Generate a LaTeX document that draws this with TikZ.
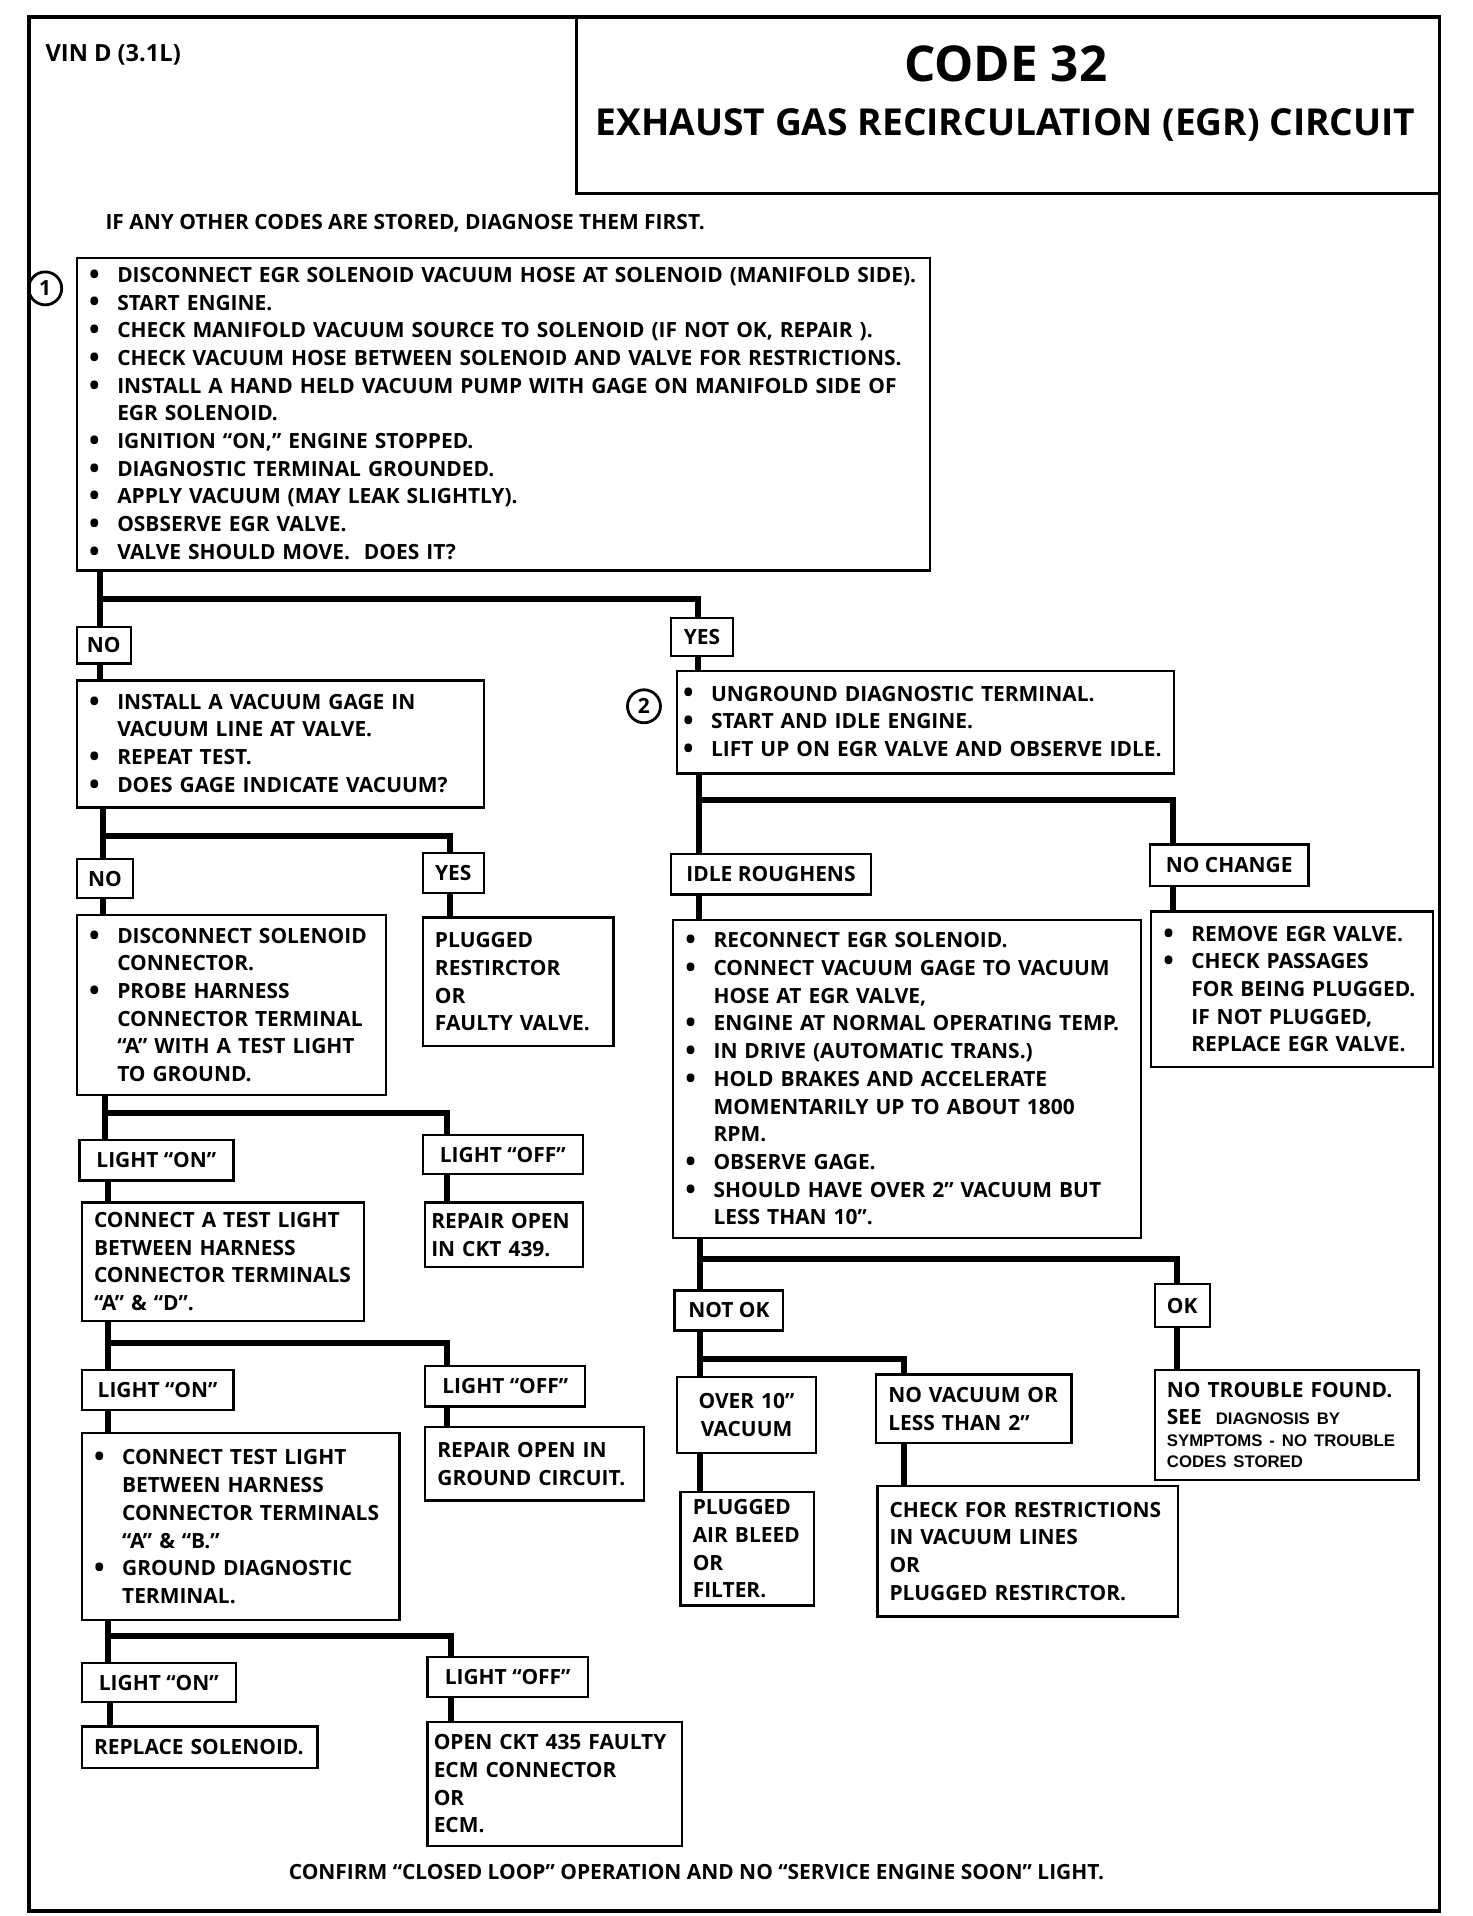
\documentclass[tikz,border=0pt]{standalone}
\usepackage{fontspec}
\setmainfont{Open Sans}
\newfontfamily\helvfont{Liberation Sans}

\newcommand{\itm}{\makebox[0.46cm][l]{\raisebox{-0.9pt}{\fontsize{13}{12}\selectfont\textbullet}}}
\newcommand{\ind}{\hspace*{0.46cm}}
\newcommand{\bodysize}{\bfseries\fontsize{9.75}{12.9}\selectfont}
\newcommand{\finesize}{\helvfont\bfseries\fontsize{7.8}{9}\selectfont}

\begin{document}
\begin{tikzpicture}[
    x=0.02cm,
    y=-0.02cm,
    textline/.style={
        font=\bodysize,
        inner sep=0pt
    },
    box/.style={
        draw,
        line width=1.1pt,
        anchor=north west,
        align=left,
        inner xsep=0.2cm,
        inner ysep=0pt,
        font=\bodysize
    },
    answer/.style={
        draw,
        line width=1.1pt,
        anchor=north west,
        inner sep=0pt,
        font=\bodysize
    },
    wh/.style 2 args={
        minimum width=#1cm,
        minimum height=#2cm
    },
    stepno/.style={
        draw,
        circle,
        line width=1.3pt,
        minimum size=0.54cm,
        inner sep=0pt,
        font=\bodysize
    },
    link/.style={
        line width=2.8pt
    }
]

\useasboundingbox (0,0) rectangle (1205,1568);

% ==================================================
% Frame and heading
% ==================================================

\draw[line width=1.8pt] (24,14) rectangle (1178,1564);
\draw[line width=1.4pt] (472,14) rectangle (1178,158);

\node[textline, anchor=west, font=\bfseries\fontsize{11}{13}\selectfont] (vin) at (37,45)
    {VIN D (3.1L)};

\node[font=\bfseries\fontsize{23}{26}\selectfont] (code) at (823,52)
    {CODE 32};

\node[font=\bfseries\fontsize{17.3}{20}\selectfont] (title) at (823,102)
    {EXHAUST GAS RECIRCULATION (EGR) CIRCUIT};

\node[textline, anchor=west] (other) at (86,183)
    {IF ANY OTHER CODES ARE STORED, DIAGNOSE THEM FIRST.};

% ==================================================
% Step 1
% ==================================================

\node[stepno] (n1) at (37,236) {1};

\node[box, text width=13.56cm, minimum height=5.12cm] (step1) at (62,210)
    {\itm DISCONNECT EGR SOLENOID VACUUM HOSE AT SOLENOID (MANIFOLD SIDE).\\
     \itm START ENGINE.\\
     \itm CHECK MANIFOLD VACUUM SOURCE TO SOLENOID (IF NOT OK, REPAIR ).\\
     \itm CHECK VACUUM HOSE BETWEEN SOLENOID AND VALVE FOR RESTRICTIONS.\\
     \itm INSTALL A HAND HELD VACUUM PUMP WITH GAGE ON MANIFOLD SIDE OF\\
     \ind EGR SOLENOID.\\
     \itm IGNITION “ON,” ENGINE STOPPED.\\
     \itm DIAGNOSTIC TERMINAL GROUNDED.\\
     \itm APPLY VACUUM (MAY LEAK SLIGHTLY).\\
     \itm OSBSERVE EGR VALVE.\\
     \itm VALVE SHOULD MOVE.\ \ DOES IT?};

\node[answer, wh={0.88}{0.6}] (no1) at (62,512) {NO};
\node[answer, wh={1.02}{0.62}] (yes1) at (548,505) {YES};

% ==================================================
% Left side: valve did not move
% ==================================================

\node[box, text width=6.26cm, minimum height=2.08cm] (vacgage) at (62,556)
    {\itm INSTALL A VACUUM GAGE IN\\
     \ind VACUUM LINE AT VALVE.\\
     \itm REPEAT TEST.\\
     \itm DOES GAGE INDICATE VACUUM?};

\node[answer, wh={0.92}{0.64}] (no2) at (62,702) {NO};
\node[answer, wh={1.0}{0.66}] (yes2) at (345,697) {YES};

\node[box, text width=4.66cm, minimum height=2.94cm] (discon) at (62,748)
    {\itm DISCONNECT SOLENOID\\
     \ind CONNECTOR.\\
     \itm PROBE HARNESS\\
     \ind CONNECTOR TERMINAL\\
     \ind “A” WITH A TEST LIGHT\\
     \ind TO GROUND.};

\node[box, text width=2.72cm, minimum height=2.1cm] (plugged) at (345,750)
    {PLUGGED\\ RESTIRCTOR\\ OR\\ FAULTY VALVE.};

\node[answer, wh={2.52}{0.66}] (on1) at (64,932) {LIGHT “ON”};
\node[answer, wh={2.62}{0.64}] (off1) at (345,928) {LIGHT “OFF”};

\node[box, text width=4.22cm, minimum height=1.94cm] (testAD) at (66,983)
    {CONNECT A TEST LIGHT\\
     BETWEEN HARNESS\\
     CONNECTOR TERMINALS\\
     “A” \& “D”.};

\node[box, inner xsep=0.1cm, text width=2.38cm, minimum height=1.06cm] (rep439) at (347,983)
    {REPAIR OPEN\\ IN CKT 439.};

\node[answer, wh={2.48}{0.66}] (on2) at (66,1120) {LIGHT “ON”};
\node[answer, wh={2.62}{0.66}] (off2) at (347,1117) {LIGHT “OFF”};

\node[box, text width=4.8cm, minimum height=3.06cm] (testAB) at (66,1172)
    {\itm CONNECT TEST LIGHT\\
     \ind BETWEEN HARNESS\\
     \ind CONNECTOR TERMINALS\\
     \ind “A” \& “B.”\\
     \itm GROUND DIAGNOSTIC\\
     \ind TERMINAL.};

\node[box, text width=3.18cm, minimum height=1.2cm] (repgnd) at (347,1167)
    {REPAIR OPEN IN\\ GROUND CIRCUIT.};

\node[answer, wh={2.52}{0.64}] (on3) at (66,1360) {LIGHT “ON”};
\node[answer, wh={2.62}{0.66}] (off3) at (349,1355) {LIGHT “OFF”};

\node[box, text width=3.46cm, minimum height=0.68cm] (replace) at (66,1412)
    {REPLACE SOLENOID.};

\node[box, inner xsep=0.1cm, text width=3.96cm, minimum height=2.04cm] (openckt) at (349,1408)
    {OPEN CKT 435 FAULTY\\ ECM CONNECTOR\\ OR\\ ECM.};

% ==================================================
% Right side: valve moved
% ==================================================

\node[stepno] (n2) at (527,578) {2};

\node[box, inner xsep=0.1cm, text width=7.94cm, minimum height=1.68cm] (unground) at (553,548)
    {\itm UNGROUND DIAGNOSTIC TERMINAL.\\
     \itm START AND IDLE ENGINE.\\
     \itm LIFT UP ON EGR VALVE AND OBSERVE IDLE.};

\node[answer, wh={3.28}{0.66}] (rough) at (548,698) {IDLE ROUGHENS};
\node[answer, wh={2.6}{0.68}] (nochange) at (940,690) {NO CHANGE};

\node[box, text width=7.26cm, minimum height=5.2cm] (reconn) at (550,752)
    {\itm RECONNECT EGR SOLENOID.\\
     \itm CONNECT VACUUM GAGE TO VACUUM\\
     \ind HOSE AT EGR VALVE,\\
     \itm ENGINE AT NORMAL OPERATING TEMP.\\
     \itm IN DRIVE (AUTOMATIC TRANS.)\\
     \itm HOLD BRAKES AND ACCELERATE\\
     \ind MOMENTARILY UP TO ABOUT 1800\\
     \ind RPM.\\
     \itm OBSERVE GAGE.\\
     \itm SHOULD HAVE OVER 2” VACUUM BUT\\
     \ind LESS THAN 10”.};

\node[box, text width=4.22cm, minimum height=2.54cm] (remove) at (941,745)
    {\itm REMOVE EGR VALVE.\\
     \itm CHECK PASSAGES\\
     \ind FOR BEING PLUGGED.\\
     \ind IF NOT PLUGGED,\\
     \ind REPLACE EGR VALVE.};

\node[answer, wh={1.78}{0.66}] (notok) at (551,1055) {NOT OK};
\node[answer, wh={0.9}{0.7}] (ok) at (944,1050) {OK};

\node[box, align=center, text width=1.88cm, minimum height=1.24cm] (over10) at (553,1126)
    {OVER 10”\\ VACUUM};

\node[box, text width=2.8cm, minimum height=1.12cm] (novac) at (716,1124)
    {NO VACUUM OR\\ LESS THAN 2”};

\node[box, text width=1.78cm, minimum height=1.86cm] (airbleed) at (556,1220)
    {PLUGGED\\ AIR BLEED\\ OR\\ FILTER.};

\node[box, text width=4.52cm, minimum height=2.14cm] (restr) at (717,1215)
    {CHECK FOR RESTRICTIONS\\ IN VACUUM LINES\\ OR\\ PLUGGED RESTIRCTOR.};

\node[box, text width=3.92cm, minimum height=1.8cm] (notrouble) at (944,1120)
    {NO TROUBLE FOUND.\\
     SEE\ \ {\finesize DIAGNOSIS BY}\\[-3pt]
     {\finesize SYMPTOMS - NO TROUBLE}\\[-3pt]
     {\finesize CODES STORED}};

% ==================================================
% Footer
% ==================================================

\node[textline] (confirm) at (570,1532)
    {CONFIRM “CLOSED LOOP” OPERATION AND NO “SERVICE ENGINE SOON” LIGHT.};

% ==================================================
% Connecting lines
% ==================================================

% step 1 -> NO / YES
\coordinate (j1) at (82,490);
\coordinate (k1) at (571,490);
\draw[link] (step1.south -| j1) -- (no1.north -| j1);
\draw[link] (j1) -- (k1) -- (yes1.north -| k1);
\draw[link] (no1.south -| j1) -- (vacgage.north -| j1);
\draw[link] (yes1.south -| k1) -- (unground.north -| k1);

% vacuum gage -> NO / YES
\coordinate (j2) at (84,684);
\coordinate (k2) at (368,684);
\draw[link] (vacgage.south -| j2) -- (no2.north -| j2);
\draw[link] (j2) -- (k2) -- (yes2.north -| k2);
\draw[link] (no2.south -| j2) -- (discon.north -| j2);
\draw[link] (yes2.south -| k2) -- (plugged.north -| k2);

% disconnect solenoid -> light on / off
\coordinate (j4) at (86,911);
\coordinate (k4) at (366,911);
\draw[link] (discon.south -| j4) -- (on1.north -| j4);
\draw[link] (j4) -- (k4) -- (off1.north -| k4);
\draw[link] (on1.south -| 88,0) -- (testAD.north -| 88,0);
\draw[link] (off1.south -| k4) -- (rep439.north -| k4);

% test light A & D -> light on / off
\coordinate (j5) at (88,1099);
\coordinate (k5) at (366,1099);
\draw[link] (testAD.south -| j5) -- (on2.north -| j5);
\draw[link] (j5) -- (k5) -- (off2.north -| k5);
\draw[link] (on2.south -| j5) -- (testAB.north -| j5);
\draw[link] (off2.south -| k5) -- (repgnd.north -| k5);

% test light A & B -> light on / off
\coordinate (j6) at (88,1339);
\coordinate (k6) at (369,1339);
\draw[link] (testAB.south -| j6) -- (on3.north -| j6);
\draw[link] (j6) -- (k6) -- (off3.north -| k6);
\draw[link] (on3.south -| 90,0) -- (replace.north -| 90,0);
\draw[link] (off3.south -| k6) -- (openckt.north -| k6);

% step 2 -> idle roughens / no change
\coordinate (j3) at (572,655);
\coordinate (k3) at (960,655);
\draw[link] (unground.south -| j3) -- (rough.north -| j3);
\draw[link] (j3) -- (k3) -- (nochange.north -| k3);
\draw[link] (rough.south -| j3) -- (reconn.north -| j3);
\draw[link] (nochange.south -| k3) -- (remove.north -| k3);

% gage reading -> NOT OK / OK
\coordinate (j7) at (573,1030);
\coordinate (k7) at (963,1030);
\draw[link] (reconn.south -| j7) -- (notok.north -| j7);
\draw[link] (j7) -- (k7) -- (ok.north -| k7);
\draw[link] (ok.south -| k7) -- (notrouble.north -| k7);

% NOT OK -> over 10 / under 2
\coordinate (j8) at (573,1112);
\coordinate (k8) at (740,1112);
\draw[link] (notok.south -| j8) -- (over10.north -| j8);
\draw[link] (j8) -- (k8) -- (novac.north -| k8);
\draw[link] (over10.south -| j8) -- (airbleed.north -| j8);
\draw[link] (novac.south -| k8) -- (restr.north -| k8);

\end{tikzpicture}
\end{document}
